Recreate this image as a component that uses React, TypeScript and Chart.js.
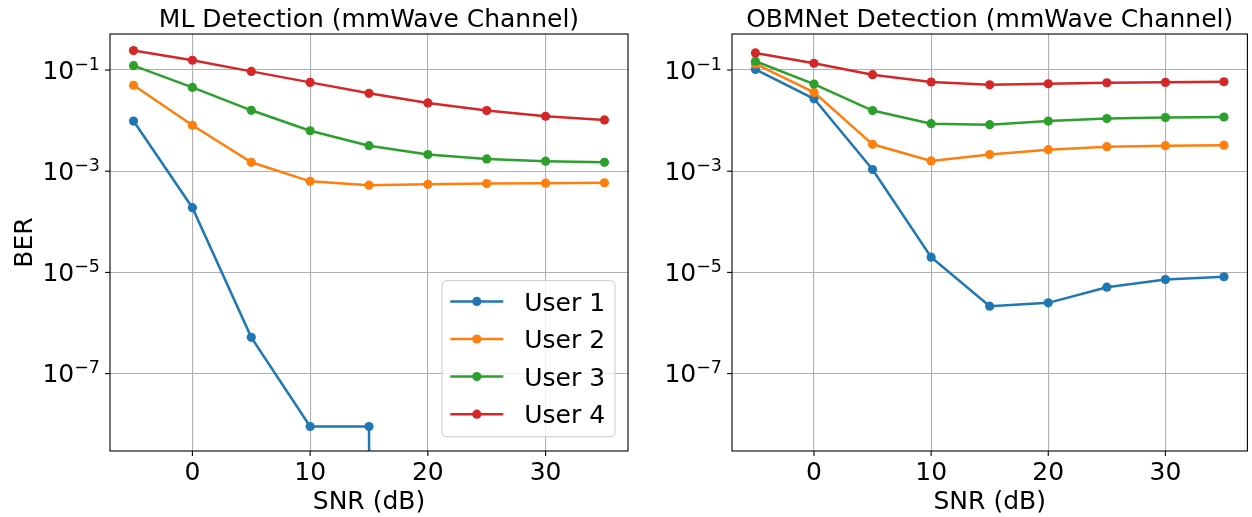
import React, { useEffect, useRef } from "react";
import { Chart, registerables } from "chart.js";

Chart.register(...registerables);

// ---------------- data ----------------
const SNR_DB = [-5, 0, 5, 10, 15, 20, 25, 30, 35];

// ML detection (left panel); 0 = no bit errors observed
const ML_USER1 = [9.8e-3, 1.9e-4, 5.2e-7, 9e-9, 9e-9, 0, 0, 0, 0];
const ML_USER2 = [5.0e-2, 8.1e-3, 1.5e-3, 6.3e-4, 5.3e-4, 5.5e-4, 5.7e-4, 5.8e-4, 5.9e-4];
const ML_USER3 = [0.122, 0.0453, 0.016, 0.0063, 0.0032, 0.00214, 0.00175, 0.00158, 0.0015];
const ML_USER4 = [0.242, 0.156, 0.094, 0.057, 0.0346, 0.0224, 0.0158, 0.0122, 0.0103];

// OBMNet detection (right panel)
const OB_USER1 = [0.103, 0.027, 1.08e-3, 2.0e-5, 2.15e-6, 2.5e-6, 5.1e-6, 7.2e-6, 8.2e-6];
const OB_USER2 = [0.132, 0.0361, 0.0034, 0.0016, 0.00214, 0.00266, 0.00305, 0.0032, 0.00327];
const OB_USER3 = [0.149, 0.0527, 0.0158, 0.0087, 0.0083, 0.0098, 0.011, 0.0115, 0.0118];
const OB_USER4 = [0.218, 0.136, 0.081, 0.058, 0.051, 0.0535, 0.056, 0.057, 0.0586];

const SERIES_LABELS = ["User 1", "User 2", "User 3", "User 4"];
const SERIES_COLORS = ["#1f77b4", "#ff7f0e", "#2ca02c", "#d62728"];

const X_TICKS = [0, 10, 20, 30];
const Y_TICKS = [1e-1, 1e-3, 1e-5, 1e-7];
const X_MIN = -7;
const X_MAX = 37;
const Y_MIN = Math.pow(10, -8.53);
const Y_MAX = Math.pow(10, -0.288);

const TITLES = ["ML Detection (mmWave Channel)", "OBMNet Detection (mmWave Channel)"];
const X_LABEL = "SNR (dB)";
const Y_LABEL = "BER";

// log axes clip non-positive values to a tiny positive number (like matplotlib)
const LOG_CLIP_FLOOR = 1e-300;

// ---------------- drawing ----------------
const FONT_FAMILY = '"DejaVu Sans", sans-serif';
const FS = 25;
const H = 517;
const LINE_W = 2.5;
const MARKER_R = 4.6;

type PanelCfg = {
  title: string;
  showLegend: boolean;
  showYLabel: boolean;
};

function line(ctx: CanvasRenderingContext2D, x1: number, y1: number, x2: number, y2: number) {
  ctx.beginPath();
  ctx.moveTo(x1, y1);
  ctx.lineTo(x2, y2);
  ctx.stroke();
}

function roundRect(ctx: CanvasRenderingContext2D, x: number, y: number, w: number, h: number, r: number) {
  ctx.beginPath();
  ctx.moveTo(x + r, y);
  ctx.lineTo(x + w - r, y);
  ctx.quadraticCurveTo(x + w, y, x + w, y + r);
  ctx.lineTo(x + w, y + h - r);
  ctx.quadraticCurveTo(x + w, y + h, x + w - r, y + h);
  ctx.lineTo(x + r, y + h);
  ctx.quadraticCurveTo(x, y + h, x, y + h - r);
  ctx.lineTo(x, y + r);
  ctx.quadraticCurveTo(x, y, x + r, y);
  ctx.closePath();
}

function drawDecorations(chart: any, cfg: PanelCfg) {
  const ctx: CanvasRenderingContext2D = chart.ctx;
  const a = chart.chartArea;
  const xs = chart.scales.x;
  const ys = chart.scales.y;
  ctx.save();

  // spines
  ctx.strokeStyle = "#000";
  ctx.lineWidth = 1.1;
  ctx.strokeRect(a.left, a.top, a.right - a.left, a.bottom - a.top);

  // tick marks
  X_TICKS.forEach((v) => {
    const px = xs.getPixelForValue(v);
    line(ctx, px, a.bottom, px, a.bottom + 4.9);
  });
  Y_TICKS.forEach((v) => {
    const py = ys.getPixelForValue(v);
    line(ctx, a.left - 4.9, py, a.left, py);
  });

  ctx.fillStyle = "#000";
  ctx.textBaseline = "alphabetic";

  // x tick labels
  ctx.font = `${FS}px ${FONT_FAMILY}`;
  ctx.textAlign = "center";
  X_TICKS.forEach((v) => {
    ctx.fillText(String(v), xs.getPixelForValue(v), a.bottom + 29);
  });

  // y tick labels 10^n
  Y_TICKS.forEach((v) => {
    const py = ys.getPixelForValue(v);
    const exp = Math.round(Math.log10(v));
    const sup = (exp < 0 ? "\u2212" : "") + String(Math.abs(exp));
    const right = a.left - 10;
    ctx.textAlign = "right";
    ctx.font = `${FS * 0.7}px ${FONT_FAMILY}`;
    const supW = ctx.measureText(sup).width;
    ctx.fillText(sup, right, py - 0.5);
    ctx.font = `${FS}px ${FONT_FAMILY}`;
    ctx.fillText("10", right - supW, py + 8.6);
  });

  // x label
  ctx.font = `${FS}px ${FONT_FAMILY}`;
  ctx.textAlign = "center";
  ctx.fillText(X_LABEL, (a.left + a.right) / 2, a.bottom + 58);

  // title
  ctx.fillText(cfg.title, (a.left + a.right) / 2, a.top - 7.4);

  // y label
  if (cfg.showYLabel) {
    ctx.save();
    ctx.translate(32.3, (a.top + a.bottom) / 2);
    ctx.rotate(-Math.PI / 2);
    ctx.textAlign = "center";
    ctx.fillText(Y_LABEL, 0, 0);
    ctx.restore();
  }

  // legend
  if (cfg.showLegend) {
    const lw = 173;
    const lh = 156;
    const lx = a.right - 13 - lw;
    const ly = a.bottom - 14.3 - lh;
    roundRect(ctx, lx, ly, lw, lh, 4);
    ctx.fillStyle = "rgba(255,255,255,0.8)";
    ctx.fill();
    ctx.strokeStyle = "#cccccc";
    ctx.lineWidth = 1;
    ctx.stroke();
    SERIES_LABELS.forEach((lab, i) => {
      const cy = ly + 20.7 + i * 37.6;
      ctx.strokeStyle = SERIES_COLORS[i];
      ctx.lineWidth = LINE_W;
      line(ctx, lx + 8.3, cy, lx + 61.3, cy);
      ctx.fillStyle = SERIES_COLORS[i];
      ctx.beginPath();
      ctx.arc(lx + 34.8, cy, MARKER_R, 0, Math.PI * 2);
      ctx.fill();
      ctx.fillStyle = "#000";
      ctx.font = `${FS}px ${FONT_FAMILY}`;
      ctx.textAlign = "left";
      ctx.fillText(lab, lx + 82.3, cy + 9.1);
    });
  }

  ctx.restore();
}

type PanelProps = {
  left: number;
  width: number;
  chartLeft: number;
  chartRight: number;
  series: number[][];
  cfg: PanelCfg;
};

const CHART_TOP = 34;
const CHART_BOTTOM = 451;

function Panel({ left, width, chartLeft, chartRight, series, cfg }: PanelProps) {
  const ref = useRef<HTMLCanvasElement | null>(null);

  useEffect(() => {
    if (!ref.current) return;
    const datasets = series.map((vals, i) => ({
      label: SERIES_LABELS[i],
      data: SNR_DB.map((x, j) => ({ x, y: vals[j] > 0 ? vals[j] : LOG_CLIP_FLOOR })),
      borderColor: SERIES_COLORS[i],
      backgroundColor: SERIES_COLORS[i],
      pointBackgroundColor: SERIES_COLORS[i],
      pointBorderColor: SERIES_COLORS[i],
      pointBorderWidth: 0,
      pointRadius: MARKER_R,
      borderWidth: LINE_W,
      tension: 0,
      fill: false,
      order: series.length - i,
    }));

    const chart = new Chart(ref.current, {
      type: "line",
      data: { datasets },
      options: {
        animation: false,
        responsive: false,
        events: [],
        layout: {
          padding: { left: 0, right: width - chartRight, top: CHART_TOP, bottom: 0 },
        },
        plugins: {
          legend: { display: false },
          title: { display: false },
          tooltip: { enabled: false },
        },
        scales: {
          x: {
            type: "linear",
            min: X_MIN,
            max: X_MAX,
            bounds: "data",
            ticks: { display: false },
            border: { display: false },
            grid: { color: "#b0b0b0", lineWidth: 1.1, drawTicks: false },
            afterBuildTicks: (s: any) => {
              s.ticks = X_TICKS.map((v) => ({ value: v }));
            },
            afterFit: (s: any) => {
              s.height = H - CHART_BOTTOM;
            },
          },
          y: {
            type: "logarithmic",
            min: Y_MIN,
            max: Y_MAX,
            bounds: "data",
            ticks: { display: false },
            border: { display: false },
            grid: { color: "#b0b0b0", lineWidth: 1.1, drawTicks: false },
            afterBuildTicks: (s: any) => {
              s.ticks = Y_TICKS.map((v) => ({ value: v }));
            },
            afterFit: (s: any) => {
              s.width = chartLeft;
            },
          },
        },
      } as any,
      plugins: [
        {
          id: "decorations",
          afterDraw: (c: any) => drawDecorations(c, cfg),
        },
      ],
    });
    return () => chart.destroy();
  }, []);

  return (
    <canvas
      ref={ref}
      width={width}
      height={H}
      style={{ position: "absolute", left, top: 0, width, height: H, display: "block" }}
    />
  );
}

export default function App() {
  return (
    <div style={{ position: "absolute", left: 0, top: 0, width: 1252, height: H, background: "#fff" }}>
      <Panel
        left={0}
        width={640}
        chartLeft={110}
        chartRight={628}
        series={[ML_USER1, ML_USER2, ML_USER3, ML_USER4]}
        cfg={{ title: TITLES[0], showLegend: true, showYLabel: true }}
      />
      <Panel
        left={640}
        width={612}
        chartLeft={92}
        chartRight={610}
        series={[OB_USER1, OB_USER2, OB_USER3, OB_USER4]}
        cfg={{ title: TITLES[1], showLegend: false, showYLabel: false }}
      />
    </div>
  );
}
